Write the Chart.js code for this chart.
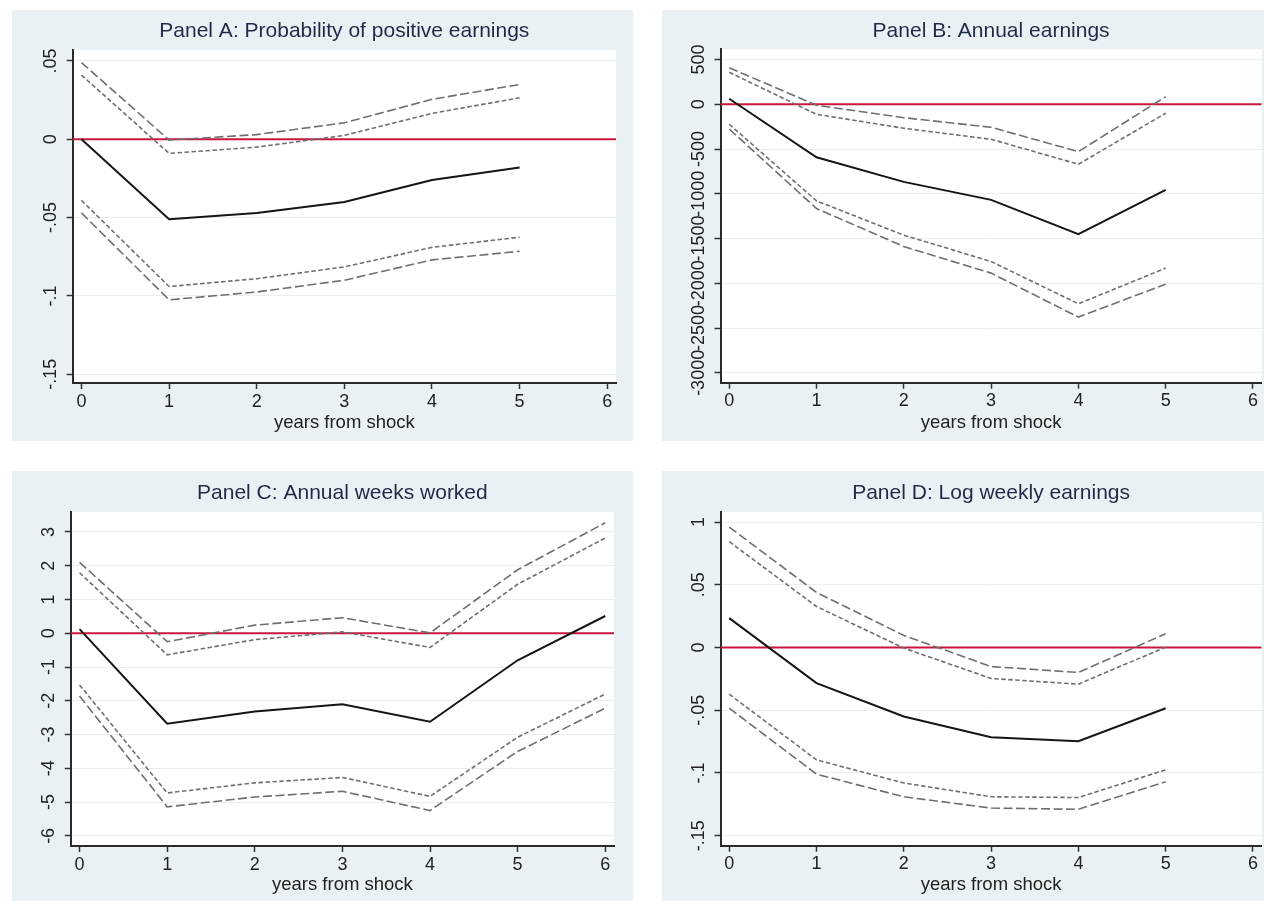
<!DOCTYPE html>
<html>
<head>
<meta charset="utf-8">
<script src="https://cdn.jsdelivr.net/npm/chart.js@4.4.1/dist/chart.umd.min.js"></script>
<style>
  html, body { margin: 0; padding: 0; background: #fff; }
  body { width: 1264px; height: 901px; position: relative; overflow: hidden; }
  .panel { position: absolute; background: #eaf1f4; }
  .panel canvas { display: block; }
</style>
</head>
<body>
<div class="panel" style="left:12px;top:10px;width:621px;height:431px"><canvas id="chartA" width="621" height="431"></canvas></div>
<div class="panel" style="left:662px;top:10px;width:602px;height:431px"><canvas id="chartB" width="602" height="431"></canvas></div>
<div class="panel" style="left:12px;top:471px;width:621px;height:430px"><canvas id="chartC" width="621" height="430"></canvas></div>
<div class="panel" style="left:662px;top:471px;width:602px;height:430px"><canvas id="chartD" width="602" height="430"></canvas></div>
<script>
// x axis (years from shock)
const years5 = [0, 1, 2, 3, 4, 5];
const years6 = [0, 1, 2, 3, 4, 5, 6];
const xTicks = [0, 1, 2, 3, 4, 5, 6];
const xLabels = ['0', '1', '2', '3', '4', '5', '6'];
const xMin = -0.1, xMax = 6.1;

// Panel A: Probability of positive earnings
const estA  = [0.000, -0.051, -0.047, -0.040, -0.026, -0.018];
const hi95A = [0.049, -0.0005, 0.003, 0.0105, 0.0255, 0.035];
const hi90A = [0.041, -0.009, -0.005, 0.0025, 0.0165, 0.0265];
const lo90A = [-0.039, -0.094, -0.089, -0.0815, -0.069, -0.0625];
const lo95A = [-0.047, -0.1025, -0.0975, -0.090, -0.077, -0.0715];
const yTicksA = [0.05, 0, -0.05, -0.1, -0.15];
const yLabelsA = ['.05', '0', '-.05', '-.1', '-.15'];

// Panel B: Annual earnings
const estB  = [62, -592, -867, -1068, -1451, -956];
const hi95B = [408, -11, -150, -257, -529, 85];
const hi90B = [357, -112, -268, -391, -670, -100];
const lo90B = [-223, -1079, -1462, -1756, -2229, -1830];
const lo95B = [-276, -1165, -1589, -1886, -2377, -2009];
const yTicksB = [500, 0, -500, -1000, -1500, -2000, -2500, -3000];
const yLabelsB = ['500', '0', '-500', '-1000', '-1500', '-2000', '-2500', '-3000'];

// Panel C: Annual weeks worked
const estC  = [0.12, -2.68, -2.32, -2.10, -2.62, -0.80, 0.51];
const hi95C = [2.10, -0.25, 0.24, 0.46, 0.01, 1.88, 3.27];
const hi90C = [1.79, -0.64, -0.19, 0.04, -0.42, 1.45, 2.82];
const lo90C = [-1.53, -4.73, -4.43, -4.27, -4.83, -3.08, -1.80];
const lo95C = [-1.86, -5.14, -4.85, -4.68, -5.25, -3.50, -2.22];
const yTicksC = [3, 2, 1, 0, -1, -2, -3, -4, -5, -6];
const yLabelsC = ['3', '2', '1', '0', '-1', '-2', '-3', '-4', '-5', '-6'];

// Panel D: Log weekly earnings
const estD  = [0.0234, -0.0284, -0.055, -0.0715, -0.0747, -0.0484];
const hi95D = [0.096, 0.0439, 0.0096, -0.0152, -0.0199, 0.011];
const hi90D = [0.0843, 0.0327, -0.0005, -0.0247, -0.0292, 0.0003];
const lo90D = [-0.0372, -0.0896, -0.108, -0.119, -0.1196, -0.0975];
const lo95D = [-0.0484, -0.101, -0.119, -0.128, -0.129, -0.107];
const yTicksD = [0.1, 0.05, 0, -0.05, -0.1, -0.15];
const yLabelsD = ['1', '.05', '0', '-.05', '-.1', '-.15'];

const FONT = "'Liberation Sans', Arial, Helvetica, sans-serif";
Chart.defaults.font.family = FONT;

const plotBg = {
  id: 'plotbg',
  beforeDraw(chart) {
    const { ctx, chartArea: a } = chart;
    ctx.save();
    ctx.fillStyle = '#ffffff';
    ctx.fillRect(a.left, a.top, a.right - a.left, a.bottom - a.top);
    ctx.restore();
  },
};

// rotated y tick labels, Stata style
const yLabelPlugin = {
  id: 'ylabels',
  afterDraw(chart, args, opts) {
    const s = chart.scales.y;
    const ctx = chart.ctx;
    const bx = chart.chartArea.left - opts.gap;
    ctx.save();
    ctx.font = '18px ' + FONT;
    ctx.fillStyle = '#222';
    ctx.textAlign = 'center';
    ctx.textBaseline = 'alphabetic';
    s.ticks.forEach((t, i) => {
      ctx.save();
      ctx.translate(bx, s.getPixelForValue(t.value));
      ctx.rotate(-Math.PI / 2);
      ctx.fillText(opts.labels[i], 0, 0);
      ctx.restore();
    });
    ctx.restore();
  },
};

const pts = (years, vals) => years.map((x, i) => ({ x, y: vals[i] }));

function makePanel(id, p) {
  const longDash = { borderColor: '#6f6f6f', borderWidth: 1.6, borderDash: [9, 3.5] };
  const shortDash = { borderColor: '#6f6f6f', borderWidth: 1.6, borderDash: [4.5, 2.5] };
  const common = { pointRadius: 0, tension: 0, fill: false };
  return new Chart(document.getElementById(id), {
    type: 'line',
    data: {
      datasets: [
        { data: pts(p.years, p.est), borderColor: '#151515', borderWidth: 2, ...common },
        { data: pts(p.years, p.hi95), ...longDash, ...common },
        { data: pts(p.years, p.hi90), ...shortDash, ...common },
        { data: pts(p.years, p.lo90), ...shortDash, ...common },
        { data: pts(p.years, p.lo95), ...longDash, ...common },
        { data: [{ x: xMin, y: 0 }, { x: xMax, y: 0 }], borderColor: '#c8163f', borderWidth: 2, order: 10, ...common },
      ],
    },
    options: {
      responsive: false,
      animation: false,
      events: [],
      layout: { padding: { left: 0, right: p.padRight, top: 0, bottom: 0 } },
      plugins: {
        legend: { display: false },
        tooltip: { enabled: false },
        title: {
          display: true,
          text: p.title,
          fullSize: false,
          color: '#1f2b47',
          font: { size: 21, weight: 'normal' },
          padding: { top: p.titleTop, bottom: p.titleBottom },
        },
        ylabels: { labels: p.yLabels, gap: 16.7 },
      },
      scales: {
        x: {
          type: 'linear',
          min: xMin,
          max: xMax,
          afterBuildTicks: (s) => { s.ticks = xTicks.map((v) => ({ value: v })); },
          afterFit: (s) => { s.height = p.xAxisH; },
          ticks: {
            color: '#222',
            font: { size: 18 },
            padding: 2,
            maxRotation: 0,
            callback: (v) => xLabels[xTicks.indexOf(v)],
          },
          grid: { drawOnChartArea: false, tickLength: 6, tickColor: '#333', tickWidth: 1.5 },
          border: { color: '#2a2a2a', width: 2 },
          title: {
            display: true,
            text: 'years from shock',
            color: '#222',
            font: { size: 18.5 },
            padding: { top: 0, bottom: p.xTitleBottom },
          },
        },
        y: {
          type: 'linear',
          min: p.yMin,
          max: p.yMax,
          afterBuildTicks: (s) => { s.ticks = p.yTicks.map((v) => ({ value: v })); },
          afterFit: (s) => { s.width = p.yAxisW; },
          ticks: { display: false },
          grid: { color: '#e9eef1', lineWidth: 1, tickLength: 6, tickColor: '#333', tickWidth: 1.5 },
          border: { color: '#2a2a2a', width: 2 },
        },
      },
    },
    plugins: [plotBg, yLabelPlugin],
  });
}

makePanel('chartA', {
  title: 'Panel A: Probability of positive earnings',
  years: years5, est: estA, hi95: hi95A, hi90: hi90A, lo90: lo90A, lo95: lo95A,
  yTicks: yTicksA, yLabels: yLabelsA, yMin: -0.1556, yMax: 0.057,
  yAxisW: 60.7, xAxisH: 58, padRight: 17, titleTop: 8.4, titleBottom: 6.4, xTitleBottom: 6.9,
});
makePanel('chartB', {
  title: 'Panel B: Annual earnings',
  years: years5, est: estB, hi95: hi95B, hi90: hi90B, lo90: lo90B, lo95: lo95B,
  yTicks: yTicksB, yLabels: yLabelsB, yMin: -3110, yMax: 614,
  yAxisW: 58.5, xAxisH: 58.3, padRight: 2.3, titleTop: 8.4, titleBottom: 5.7, xTitleBottom: 6.9,
});
makePanel('chartC', {
  title: 'Panel C: Annual weeks worked',
  years: years6, est: estC, hi95: hi95C, hi90: hi90C, lo90: lo90C, lo95: lo95C,
  yTicks: yTicksC, yLabels: yLabelsC, yMin: -6.30, yMax: 3.59,
  yAxisW: 58.8, xAxisH: 55, padRight: 19, titleTop: 9.9, titleBottom: 5.9, xTitleBottom: 4.9,
});
makePanel('chartD', {
  title: 'Panel D: Log weekly earnings',
  years: years5, est: estD, hi95: hi95D, hi90: hi90D, lo90: lo90D, lo95: lo95D,
  yTicks: yTicksD, yLabels: yLabelsD, yMin: -0.158, yMax: 0.108,
  yAxisW: 58.5, xAxisH: 55.3, padRight: 2.3, titleTop: 9.9, titleBottom: 5.9, xTitleBottom: 4.9,
});
</script>
</body>
</html>
